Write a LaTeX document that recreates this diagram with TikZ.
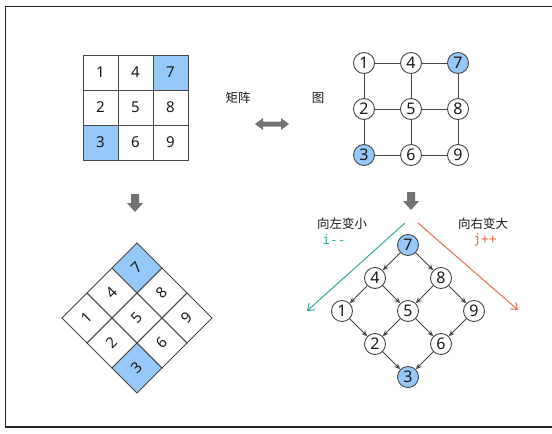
\documentclass[tikz,border=0pt]{standalone}
\usepackage{fontspec}
\setmainfont{Noto Sans}
\newfontfamily\cjk{Noto Sans CJK SC}
\newfontfamily\monof{DejaVu Sans Mono}
\usetikzlibrary{arrows.meta}
\definecolor{cellblue}{RGB}{150,200,250}
\definecolor{linegray}{RGB}{70,70,70}
\definecolor{arrgray}{RGB}{115,115,115}
\definecolor{tealc}{RGB}{52,168,150}
\definecolor{orangec}{RGB}{235,110,80}
\definecolor{txt}{RGB}{25,25,25}
\begin{document}
\begin{tikzpicture}[x=1pt,y=-1pt,
  cell/.style={draw=linegray,line width=0.9pt,minimum size=35pt,inner sep=0pt,font=\fontsize{15}{15}\selectfont,text=txt},
  bluecell/.style={cell,fill=cellblue},
  vtx/.style={circle,draw=linegray,line width=0.9pt,fill=white,minimum size=21pt,inner sep=0pt,font=\fontsize{16}{16}\selectfont,text=txt},
  bluevtx/.style={vtx,fill=cellblue},
  gedge/.style={draw=linegray,line width=0.9pt},
  tedge/.style={draw=linegray,line width=0.9pt,-{Stealth[length=6pt,width=5pt]}},
  lbl/.style={font=\cjk\fontsize{12.5}{13}\selectfont,text=txt},
  blockarr/.style={fill=arrgray,draw=none}
]
\useasboundingbox (0,0) rectangle (552,434);
\draw[line width=1.6pt,draw=black!85] (5.5,6.5) rectangle (570,427);

% matrix
\node[cell] (m1) at (100.5,72.5) {1};
\node[cell] (m4) at (135.5,72.5) {4};
\node[bluecell] (m7) at (170.5,72.5) {7};
\node[cell] (m2) at (100.5,107.5) {2};
\node[cell] (m5) at (135.5,107.5) {5};
\node[cell] (m8) at (170.5,107.5) {8};
\node[bluecell] (m3) at (100.5,142.5) {3};
\node[cell] (m6) at (135.5,142.5) {6};
\node[cell] (m9) at (170.5,142.5) {9};

% graph
\node[vtx] (g1) at (364,63) {1};
\node[vtx] (g4) at (411,63) {4};
\node[bluevtx] (g7) at (458,63) {7};
\node[vtx] (g2) at (364,109) {2};
\node[vtx] (g5) at (411,109) {5};
\node[vtx] (g8) at (458,109) {8};
\node[bluevtx] (g3) at (364,155) {3};
\node[vtx] (g6) at (411,155) {6};
\node[vtx] (g9) at (458,155) {9};
\draw[gedge] (g1)--(g4) (g4)--(g7) (g2)--(g5) (g5)--(g8) (g3)--(g6) (g6)--(g9)
  (g1)--(g2) (g2)--(g3) (g4)--(g5) (g5)--(g6) (g7)--(g8) (g8)--(g9);

% labels and double arrow
\node[lbl] (tj) at (238,98) {矩阵};
\node[lbl] (tt) at (318,98) {图};
\fill[blockarr] (255,124) -- (263,118) -- (263,121.5) -- (281,121.5) -- (281,118) -- (289,124)
  -- (281,130) -- (281,126.5) -- (263,126.5) -- (263,130) -- cycle;

% down arrows
\fill[blockarr] (131,194) -- (139,194) -- (139,203) -- (143,203) -- (135,212) -- (127,203) -- (131,203) -- cycle;
\fill[blockarr] (407,192) -- (415,192) -- (415,201) -- (419,201) -- (411,210) -- (403,201) -- (407,201) -- cycle;

% diamond
\begin{scope}[shift={(137,318)},rotate=45,transform shape,
  dcell/.style={cell,minimum size=35.4pt}]
\node[dcell] (d1) at (-35.4,-35.4) {1};
\node[dcell] (d4) at (0,-35.4) {4};
\node[dcell,fill=cellblue] (d7) at (35.4,-35.4) {7};
\node[dcell] (d2) at (-35.4,0) {2};
\node[dcell] (d5) at (0,0) {5};
\node[dcell] (d8) at (35.4,0) {8};
\node[dcell,fill=cellblue] (d3) at (-35.4,35.4) {3};
\node[dcell] (d6) at (0,35.4) {6};
\node[dcell] (d9) at (35.4,35.4) {9};
\end{scope}

% tree
\node[bluevtx] (t7) at (408,245) {7};
\node[vtx] (t4) at (375,278) {4};
\node[vtx] (t8) at (441,278) {8};
\node[vtx] (t1) at (342,311) {1};
\node[vtx] (t5) at (408,311) {5};
\node[vtx] (t9) at (474,311) {9};
\node[vtx] (t2) at (375,344) {2};
\node[vtx] (t6) at (441,344) {6};
\node[bluevtx] (t3) at (408,377) {3};
\draw[tedge] (t7)--(t4);
\draw[tedge] (t7)--(t8);
\draw[tedge] (t4)--(t1);
\draw[tedge] (t4)--(t5);
\draw[tedge] (t8)--(t5);
\draw[tedge] (t8)--(t9);
\draw[tedge] (t1)--(t2);
\draw[tedge] (t5)--(t2);
\draw[tedge] (t5)--(t6);
\draw[tedge] (t9)--(t6);
\draw[tedge] (t2)--(t3);
\draw[tedge] (t6)--(t3);

% direction arrows
\coordinate (ls) at (405,223);
\coordinate (le) at (307,311);
\coordinate (rs) at (418,223);
\coordinate (re) at (518,310);
\draw[tealc,line width=1pt,-{Straight Barb[length=6pt,width=9pt]}] (ls) -- (le);
\draw[orangec,line width=1pt,-{Straight Barb[length=6pt,width=9pt]}] (rs) -- (re);
\node[lbl] (lz) at (342,224) {向左变小};
\node[font=\monof\fontsize{13}{13}\selectfont,text=tealc] (li) at (334,240) {i--};
\node[lbl] (ry) at (483,224) {向右变大};
\node[font=\monof\fontsize{13}{13}\selectfont,text=orangec] (rj) at (485,240) {j++};
\end{tikzpicture}
\end{document}
